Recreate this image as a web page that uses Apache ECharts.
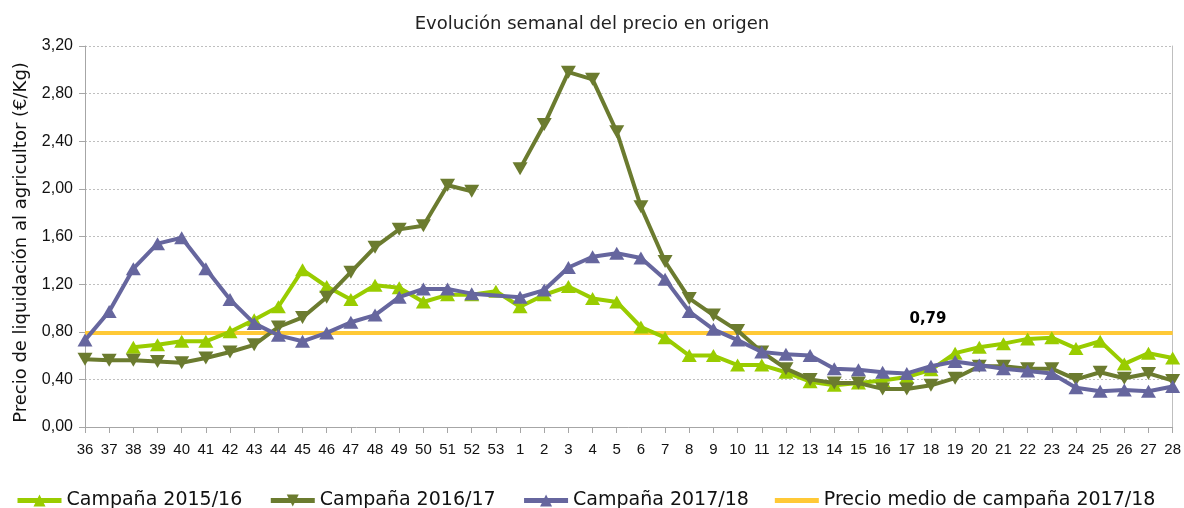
<!DOCTYPE html>
<html>
<head>
<meta charset="utf-8">
<script src="https://cdn.jsdelivr.net/npm/echarts@6/dist/echarts.min.js"></script>
<style>
html,body{margin:0;padding:0;background:#fff;}
#chart{width:1184px;height:508px;}
</style>
</head>
<body>
<div id="chart"></div>
<script>
var weeks = ['36','37','38','39','40','41','42','43','44','45','46','47','48','49','50','51','52','53',
  '1','2','3','4','5','6','7','8','9','10','11','12','13','14','15','16','17','18','19','20','21','22','23','24','25','26','27','28'];

var campana1516 = [null,null,0.67,0.69,0.72,0.72,0.80,0.90,1.01,1.32,1.18,1.07,1.19,1.17,1.05,1.11,1.11,1.14,
  1.01,1.11,1.18,1.08,1.05,0.84,0.75,0.60,0.60,0.52,0.52,0.46,0.38,0.35,0.37,0.39,0.42,0.48,0.62,0.67,0.70,0.74,0.75,0.66,0.72,0.53,0.62,0.58];

var campana1617 = [0.57,0.56,0.56,0.55,0.54,0.58,0.63,0.69,0.84,0.92,1.09,1.30,1.51,1.66,1.69,2.03,1.98,null,
  2.17,2.54,2.98,2.92,2.48,1.85,1.39,1.08,0.94,0.81,0.63,0.49,0.40,0.37,0.37,0.32,0.32,0.35,0.41,0.51,0.51,0.49,0.49,0.40,0.46,0.41,0.45,0.39];

var campana1718 = [0.73,0.97,1.33,1.54,1.59,1.33,1.07,0.87,0.77,0.72,0.79,0.88,0.94,1.09,1.16,1.16,1.12,null,
  1.09,1.15,1.34,1.43,1.46,1.42,1.24,0.97,0.82,0.73,0.63,0.61,0.60,0.49,0.48,0.46,0.45,0.51,0.55,0.52,0.49,0.47,0.45,0.33,0.30,0.31,0.30,0.34];

var precioMedio = 0.79;
var precioMedioLabelWeek = '18';

var yTicks = {min: 0, max: 3.2, interval: 0.4};

var meanData = weeks.map(function () { return precioMedio; });

var chart = echarts.init(document.getElementById('chart'), null, {renderer: 'canvas'});
var fmt = function (v) { return v.toFixed(2).replace('.', ','); };

chart.setOption({
  animation: false,
  backgroundColor: '#ffffff',
  title: {
    text: 'Evolución semanal del precio en origen',
    left: 'center',
    top: 10,
    textStyle: {fontFamily: 'DejaVu Sans', fontSize: 18, fontWeight: 'normal', color: '#222'}
  },
  legend: {
    top: 486,
    left: 10,
    itemWidth: 44,
    itemHeight: 15,
    itemGap: 26,
    lineStyle: {width: 5},
    textStyle: {fontFamily: 'DejaVu Sans', fontSize: 19, color: '#111'},
    data: ['Campaña 2015/16', 'Campaña 2016/17', 'Campaña 2017/18',
      {name: 'Precio medio de campaña 2017/18', icon: 'path://M0,0H44V5H0Z'}]
  },
  grid: {left: 85, right: 10, top: 46, bottom: 81},
  xAxis: {
    type: 'category',
    data: weeks,
    boundaryGap: false,
    axisLine: {lineStyle: {color: '#a6a6a6', width: 1}},
    axisTick: {show: true, alignWithLabel: true, length: 6, lineStyle: {color: '#a6a6a6'}},
    axisLabel: {interval: 0, margin: 15, fontFamily: 'Liberation Sans', fontSize: 15, color: '#111'}
  },
  yAxis: [{
    type: 'value',
    min: yTicks.min, max: yTicks.max, interval: yTicks.interval,
    name: 'Precio de liquidación al agricultor (€/Kg)',
    nameLocation: 'middle',
    nameGap: 55,
    nameTextStyle: {fontFamily: 'DejaVu Sans', fontSize: 18, color: '#111', padding: [0, 12, 0, 0]},
    axisLine: {show: true, lineStyle: {color: '#a6a6a6'}},
    axisTick: {show: true, length: 6, lineStyle: {color: '#a6a6a6'}},
    axisLabel: {formatter: fmt, margin: 12, fontFamily: 'Liberation Sans', fontSize: 16, color: '#111'},
    splitLine: {show: true, lineStyle: {color: '#bfbfbf', type: [2, 2], width: 1}}
  }, {
    type: 'value',
    position: 'right',
    min: yTicks.min, max: yTicks.max, interval: yTicks.interval,
    axisLine: {show: true, lineStyle: {color: '#bfbfbf'}},
    axisTick: {show: false},
    axisLabel: {show: false},
    splitLine: {show: false}
  }],
  series: [{
    name: 'Campaña 2015/16',
    type: 'line',
    data: campana1516,
    z: 3,
    symbol: 'triangle',
    symbolSize: [15, 13],
    color: '#99cc00',
    lineStyle: {width: 4, color: '#99cc00'},
    itemStyle: {color: '#99cc00'}
  }, {
    name: 'Campaña 2016/17',
    type: 'line',
    data: campana1617,
    z: 4,
    symbol: 'triangle',
    symbolRotate: 180,
    symbolSize: [15, 13],
    color: '#6b7b2f',
    lineStyle: {width: 4, color: '#6b7b2f'},
    itemStyle: {color: '#6b7b2f'}
  }, {
    name: 'Campaña 2017/18',
    type: 'line',
    data: campana1718,
    connectNulls: true,
    z: 5,
    symbol: 'triangle',
    symbolSize: [15, 13],
    color: '#66669e',
    lineStyle: {width: 4, color: '#66669e'},
    itemStyle: {color: '#66669e'}
  }, {
    name: 'Precio medio de campaña 2017/18',
    type: 'line',
    data: meanData,
    z: 2,
    symbol: 'none',
    color: '#ffc936',
    lineStyle: {width: 4, color: '#ffc936'},
    markPoint: {
      symbol: 'circle',
      symbolSize: 1,
      itemStyle: {color: 'rgba(0,0,0,0)'},
      label: {
        show: true,
        position: 'top',
        distance: 6,
        offset: [-3, 0],
        formatter: function () { return fmt(precioMedio); },
        fontFamily: 'DejaVu Sans',
        fontWeight: 'bold',
        fontSize: 15,
        color: '#000'
      },
      data: [{coord: [precioMedioLabelWeek, precioMedio]}]
    }
  }]
});
</script>
</body>
</html>
